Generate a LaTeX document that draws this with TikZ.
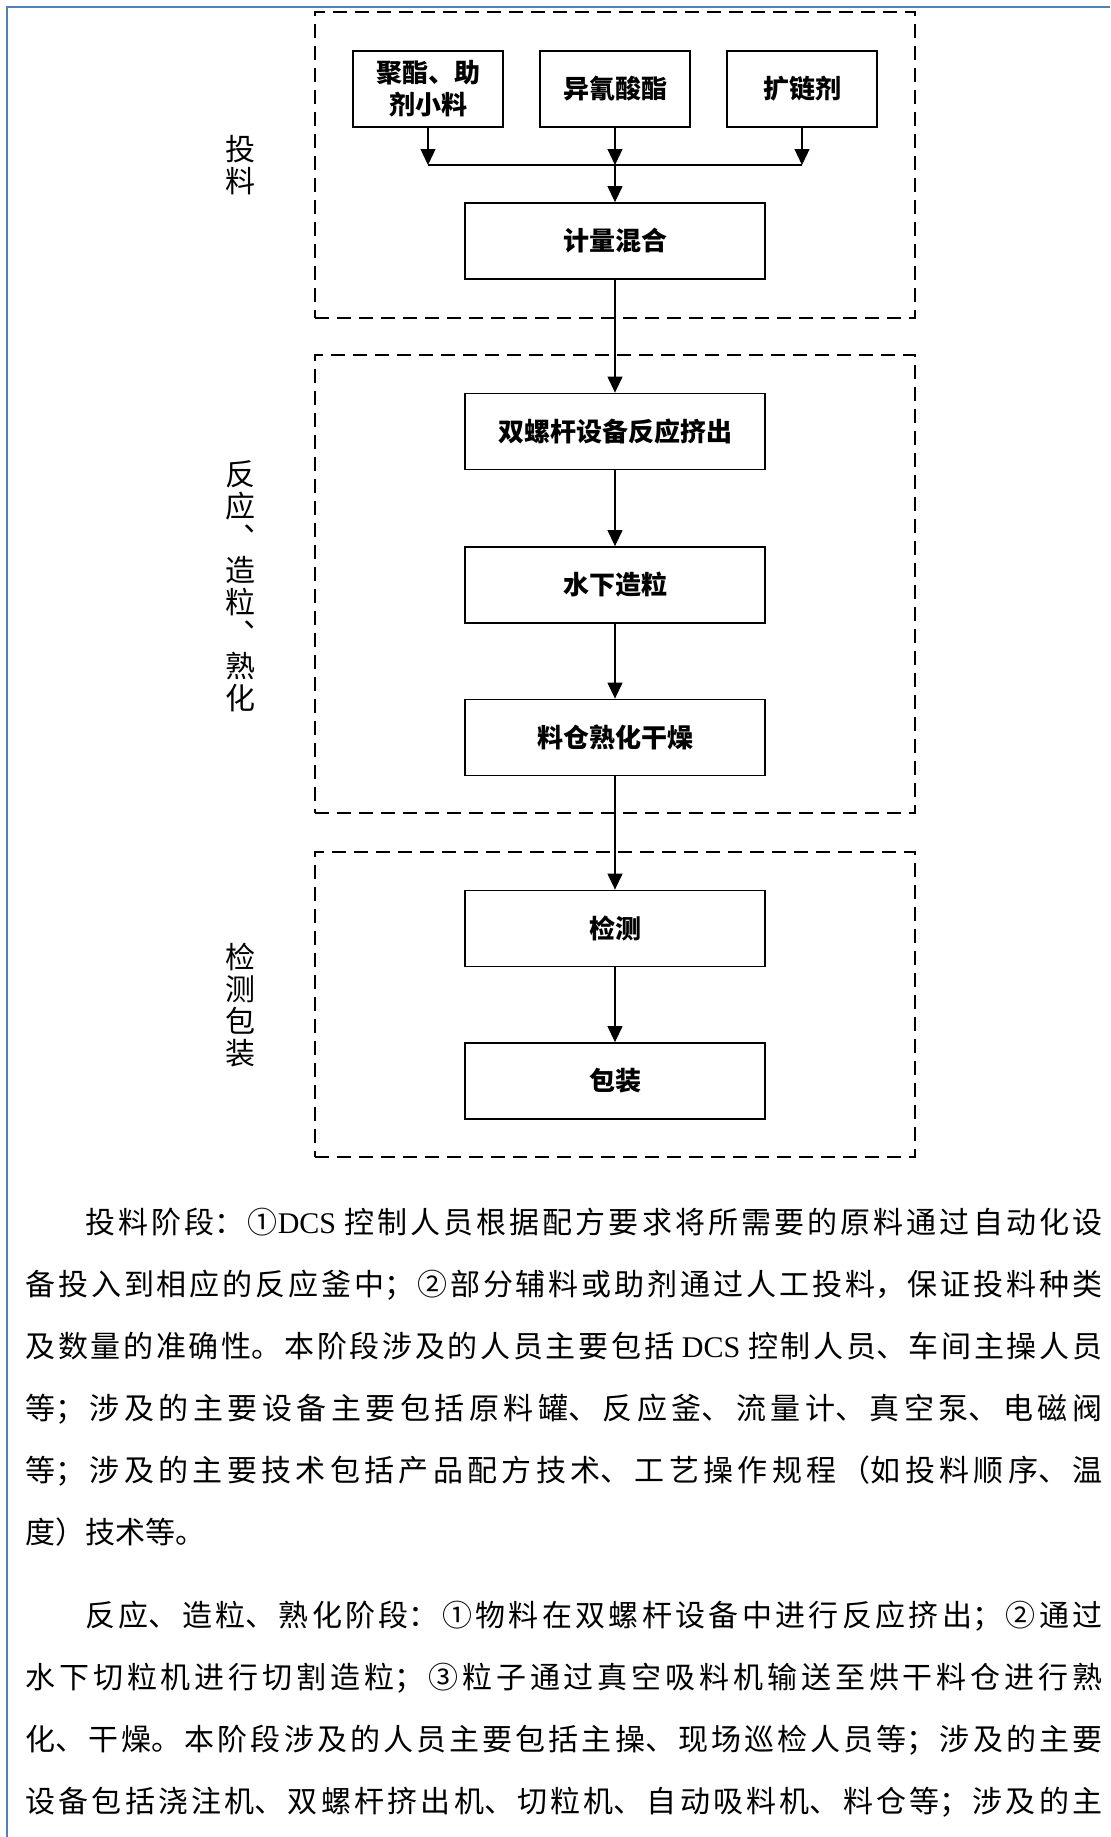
\documentclass[tikz,border=0pt]{standalone}
\usepackage{fontspec}
\setmainfont{Noto Sans CJK SC}
\newfontfamily\latinrm{Liberation Serif}
\usetikzlibrary{arrows.meta}
\XeTeXlinebreaklocale "zh"
\XeTeXlinebreakskip=0pt plus 4pt
\definecolor{pageblue}{RGB}{79,129,189}

\begin{document}
\begin{tikzpicture}[x=0.5pt,y=-0.5pt,
    proc/.style={draw,line width=0.9pt,minimum width=150pt,minimum height=38pt,inner sep=0pt,
      font=\fontsize{13}{16}\selectfont\bfseries},
    feed/.style={proc,minimum width=75pt,align=center},
    stagebox/.style={draw,line width=0.7pt,dash pattern=on 7pt off 4pt,minimum width=300pt,inner sep=0pt},
    stagename/.style={align=center,inner sep=0pt,font=\fontsize{15}{16}\selectfont},
    flow/.style={line width=0.6pt,-{Triangle[length=8pt,width=7.5pt]}}]
  \useasboundingbox (0,0) rectangle (1110,1837);
  \draw[pageblue,line width=1pt] (7,1837) -- (7,7) -- (1110,7);

  % stages
  \node[stagebox,minimum height=153pt] (s1) at (615,165) {};
  \node[stagebox,minimum height=229pt] (s2) at (615,584) {};
  \node[stagebox,minimum height=152.5pt] (s3) at (615,1004.5) {};
  \node[stagename] (l1) at (240,165) {投\\料};
  \node[stagename] (l2) at (240,586) {反\\应\\︑\\造\\粒\\︑\\熟\\化};
  \node[stagename] (l3) at (240,1005) {检\\测\\包\\装};

  % feeding
  \node[feed] (in1) at (428,89) {聚酯、助\\剂小料};
  \node[feed] (in2) at (615,89) {异氰酸酯};
  \node[feed] (in3) at (802,89) {扩链剂};
  \coordinate (join) at (615,165);
  \foreach \i in {1,2,3} {
    \draw[flow] (in\i) -- (in\i |- join);
  }
  \draw[line width=0.6pt] (in1 |- join) -- (in3 |- join);
  \node[proc] (mix) at (615,241) {计量混合};
  \draw[flow] (join) -- (mix);

  % reaction, granulation, curing
  \node[proc] (extr) at (615,431.5) {双螺杆设备反应挤出};
  \node[proc] (gran) at (615,585) {水下造粒};
  \node[proc] (dry) at (615,737.5) {料仓熟化干燥};

  % testing and packing
  \node[proc] (test) at (615,928.5) {检测};
  \node[proc] (pack) at (615,1081) {包装};

  \draw[flow] (mix) -- (extr);
  \draw[flow] (extr) -- (gran);
  \draw[flow] (gran) -- (dry);
  \draw[flow] (dry) -- (test);
  \draw[flow] (test) -- (pack);

  % description
  \node[anchor=north west,text width=538.5pt,align=justify,inner sep=0pt,
    font=\fontsize{15}{31}\selectfont] (desc) at (25,1208) {%
    \setlength{\parskip}{10.5pt}%
    \hspace*{2em}投料阶段：①{\latinrm DCS} 控制人员根据配方要求将所需要的原料通过自动化设\linebreak
    备投入到相应的反应釜中；②部分辅料或助剂通过人工投料，保证投料种类\linebreak
    及数量的准确性。本阶段涉及的人员主要包括 {\latinrm DCS} 控制人员、车间主操人员\linebreak
    等；涉及的主要设备主要包括原料罐、反应釜、流量计、真空泵、电磁阀\linebreak
    等；涉及的主要技术包括产品配方技术、工艺操作规程（如投料顺序、温\linebreak
    度）技术等。\par
    \hspace*{2em}反应、造粒、熟化阶段：①物料在双螺杆设备中进行反应挤出；②通过\linebreak
    水下切粒机进行切割造粒；③粒子通过真空吸料机输送至烘干料仓进行熟\linebreak
    化、干燥。本阶段涉及的人员主要包括主操、现场巡检人员等；涉及的主要\linebreak
    设备包括浇注机、双螺杆挤出机、切粒机、自动吸料机、料仓等；涉及的主\parfillskip=0pt\par};
\end{tikzpicture}
\end{document}
